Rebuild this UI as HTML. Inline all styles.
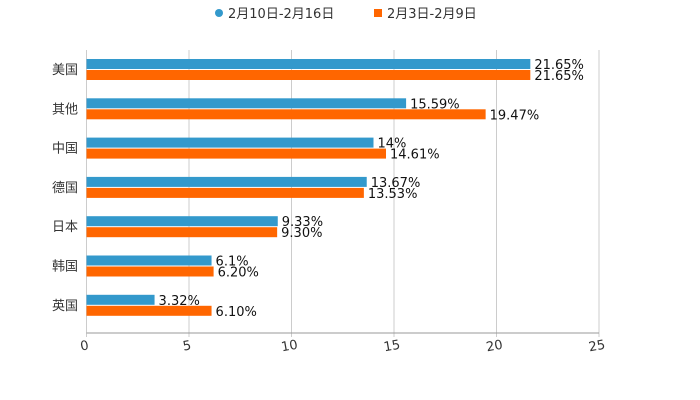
<!DOCTYPE html>
<html><head><meta charset="utf-8"><style>
body{margin:0;background:#fff;}
svg{display:block;font-family:"DejaVu Sans","Liberation Sans","Noto Sans CJK SC",sans-serif;}
</style></head><body>
<svg id="chart" width="700" height="400">
<g id="legend">
<g><circle cx="219" cy="13" r="4" fill="#3399cc"/><text x="228" y="18" font-size="13" fill="#333">2月10日-2月16日</text></g>
<g><rect x="374" y="9" width="8" height="8" fill="#ff6600"/><text x="387" y="18" font-size="13" fill="#333">2月3日-2月9日</text></g>
</g>
<g id="grid"></g>
<g id="bars"></g>
<g id="axes"></g>
</svg>
<script>
const categories=["美国","其他","中国","德国","日本","韩国","英国"];
const seriesA=[21.65,15.59,14,13.67,9.33,6.1,3.32];
const labelsA=["21.65%","15.59%","14%","13.67%","9.33%","6.1%","3.32%"];
const seriesB=[21.65,19.47,14.61,13.53,9.30,6.20,6.10];
const labelsB=["21.65%","19.47%","14.61%","13.53%","9.30%","6.20%","6.10%"];
const ticks=[0,5,10,15,20,25];
const NS="http://www.w3.org/2000/svg";
const x0=86.5,pxPer=20.5,plotTop=50,plotBottom=333,firstY=59,step=39.3;
const xs=v=>x0+v*pxPer;
function mk(t,a,p){const e=document.createElementNS(NS,t);for(const k in a)e.setAttribute(k,a[k]);p.appendChild(e);return e;}
const grid=document.getElementById('grid'),bars=document.getElementById('bars'),axes=document.getElementById('axes');
ticks.forEach(t=>{
 const l=mk('line',{x1:xs(t),x2:xs(t),y1:plotTop,y2:plotBottom+4,stroke:'#ccc','stroke-width':1},grid);
 
 
 const tx=mk('text',{x:xs(t)-2,y:350,'font-size':13,fill:'#333','text-anchor':'middle',transform:`rotate(-10 ${xs(t)-2} 346)`},axes);
 tx.textContent=t;
 
 
});
const ax=mk('line',{x1:x0,x2:xs(25),y1:plotBottom,y2:plotBottom,stroke:'#999','stroke-width':1},axes);


categories.forEach((c,i)=>{
 const y=firstY+i*step;
 const lab=mk('text',{x:78,y:y+15,'font-size':13,fill:'#333','text-anchor':'end'},axes);
 lab.textContent=c;
 
 
 const a=mk('rect',{x:x0,y:y,width:xs(seriesA[i])-x0,height:10,fill:'#3399cc'},bars);
 
 
 const b=mk('rect',{x:x0,y:y+11,width:xs(seriesB[i])-x0,height:10,fill:'#ff6600'},bars);
 
 
 const ta=mk('text',{x:xs(seriesA[i])+4,y:y+10,'font-size':13,fill:'#111'},bars);
 ta.textContent=labelsA[i];
 
 
 const tb=mk('text',{x:xs(seriesB[i])+4,y:y+21,'font-size':13,fill:'#111'},bars);
 tb.textContent=labelsB[i];
 
 
});
</script>
</body></html>
